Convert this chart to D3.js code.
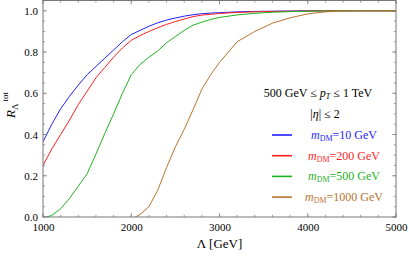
<!DOCTYPE html>
<html>
<head>
<meta charset="utf-8">
<script src="https://cdn.jsdelivr.net/npm/d3@7"></script>
<style>
  body { margin: 0; background: #fff; }
  svg text { font-family: "Liberation Serif", "DejaVu Serif", serif; }
</style>
</head>
<body>
<div id="chart"></div>
<script>
// Lambda grid (GeV)
const lambda = [1000, 1100, 1200, 1300, 1400, 1500, 1600, 1700, 1800, 1900,
	2000, 2100, 2200, 2300, 2400, 2500, 2600, 2700, 2800, 2900,
	3000, 3200, 3400, 3600, 3800, 4000, 4200, 4400, 4600, 4800, 5000];

// R_Lambda^tot for each dark matter mass (values below 0 are clipped by the frame)
const m10 = [0.365, 0.45, 0.525, 0.585, 0.64, 0.69, 0.73, 0.77, 0.81, 0.85,
	0.885, 0.905, 0.925, 0.942, 0.955, 0.965, 0.974, 0.981, 0.986, 0.989,
	0.991, 0.995, 0.997, 0.998, 0.999, 1, 1, 1, 1, 1, 1];
const m200 = [0.25, 0.33, 0.40, 0.47, 0.545, 0.61, 0.675, 0.725, 0.775, 0.82,
	0.857, 0.88, 0.90, 0.918, 0.934, 0.948, 0.96, 0.972, 0.979, 0.983,
	0.987, 0.992, 0.995, 0.997, 0.998, 0.999, 1, 1, 1, 1, 1];
const m500 = [-0.006, 0.008, 0.04, 0.09, 0.15, 0.21, 0.305, 0.405, 0.50, 0.60,
	0.69, 0.74, 0.775, 0.805, 0.845, 0.875, 0.905, 0.93, 0.945, 0.958,
	0.968, 0.98, 0.988, 0.993, 0.996, 0.998, 0.999, 1, 1, 1, 1];
const m1000 = [null, null, null, null, null, null, null, null, null, null,
	-0.01, 0.012, 0.05, 0.13, 0.24, 0.34, 0.425, 0.52, 0.62, 0.69,
	0.75, 0.85, 0.90, 0.94, 0.966, 0.985, 0.995, 0.999, 1, 1, 1];

const seriesNames = ["10", "200", "500", "1000"];
const seriesColors = ["#1f1fff", "#ff1f1f", "#1fb21f", "#b8732e"];
const seriesValues = [m10, m200, m500, m1000];

const xTicks = [1000, 2000, 3000, 4000, 5000];
const yTicks = [0, 0.2, 0.4, 0.6, 0.8, 1.0];

const W = 409, H = 257;
const margin = {top: 0.5, right: 13, bottom: 40, left: 43};
const width = W - margin.left - margin.right;
const height = H - margin.top - margin.bottom;

const svg = d3.select("#chart").append("svg")
	.attr("width", W)
	.attr("height", H);

const g = svg.append("g")
	.attr("transform", "translate(" + margin.left + "," + margin.top + ")");

const x = d3.scaleLinear().domain([1000, 5000]).range([0, width]);
const y = d3.scaleLinear().domain([0, 1.05]).range([height, 0]);

// frame ticks (inward), major + minor on all four sides
const frameColor = "#777";
const xMinor = d3.range(1000, 5001, 200);
const yMinor = d3.range(0, 1.051, 0.05);

function tickSet(vals, isMajor, side) {
	const len = isMajor ? 4 : 2.2;
	vals.forEach(v => {
		let x1, y1, x2, y2;
		if (side === "bottom") { x1 = x2 = x(v); y1 = height; y2 = height - len; }
		if (side === "top") { x1 = x2 = x(v); y1 = 0; y2 = len; }
		if (side === "left") { y1 = y2 = y(v); x1 = 0; x2 = len; }
		if (side === "right") { y1 = y2 = y(v); x1 = width; x2 = width - len; }
		g.append("line")
			.attr("x1", x1).attr("y1", y1).attr("x2", x2).attr("y2", y2)
			.attr("stroke", frameColor).attr("stroke-width", 0.7);
	});
}
["bottom", "top"].forEach(s => { tickSet(xMinor, false, s); tickSet(xTicks, true, s); });
["left", "right"].forEach(s => { tickSet(yMinor, false, s); tickSet(yTicks, true, s); });

// axis labels via d3 axes (ticks hidden, frame drawn separately)
const xAxis = d3.axisBottom(x).tickValues(xTicks).tickSize(0).tickPadding(6).tickFormat(d3.format("d"));
const yAxis = d3.axisLeft(y).tickValues(yTicks).tickSize(0).tickPadding(5).tickFormat(d3.format(".1f"));

g.append("g").attr("class", "x-axis")
	.attr("transform", "translate(0," + height + ")")
	.attr("font-family", "Liberation Serif")
	.call(xAxis)
	.call(a => a.select(".domain").remove())
	.selectAll("text").attr("font-size", 11).attr("fill", "#000");

g.append("g").attr("class", "y-axis")
	.attr("font-family", "Liberation Serif")
	.call(yAxis)
	.call(a => a.select(".domain").remove())
	.selectAll("text").attr("font-size", 11).attr("fill", "#000");

// curves
g.append("clipPath").attr("id", "clip")
	.append("rect").attr("width", width).attr("height", height);

const line = d3.line()
	.defined(d => d[1] !== null)
	.x(d => x(d[0]))
	.y(d => y(d[1]));

seriesValues.forEach((vals, i) => {
	g.append("path")
		.datum(lambda.map((l, j) => [l, vals[j]]))
		.attr("clip-path", "url(#clip)")
		.attr("fill", "none")
		.attr("stroke", seriesColors[i])
		.attr("stroke-width", 1)
		.attr("d", line);
});

// frame
g.append("rect")
	.attr("width", width).attr("height", height)
	.attr("fill", "none").attr("stroke", frameColor).attr("stroke-width", 1);

// axis titles
svg.append("text")
	.attr("x", margin.left + width / 2)
	.attr("y", 248)
	.attr("text-anchor", "middle")
	.attr("font-size", 13)
	.text("Λ [GeV]");

const yl = svg.append("text")
	.attr("transform", "translate(15,105) rotate(-90)")
	.attr("text-anchor", "middle")
	.attr("font-size", 13);
yl.append("tspan").attr("font-style", "italic").text("R");
yl.append("tspan").attr("font-size", 9).attr("dy", 3).text("Λ");
yl.append("tspan").attr("font-size", 9).attr("dx", 2).attr("dy", -10).text("tot");

// annotation
const t1 = svg.append("text").attr("x", 318).attr("y", 97)
	.attr("text-anchor", "middle").attr("font-size", 12);
t1.append("tspan").text("500 GeV ≤ ");
t1.append("tspan").attr("font-style", "italic").text("p");
t1.append("tspan").attr("font-style", "italic").attr("font-size", 8).attr("dy", 2).text("T");
t1.append("tspan").attr("dy", -2).text(" ≤ 1 TeV");

const t2 = svg.append("text").attr("x", 325).attr("y", 118)
	.attr("text-anchor", "middle").attr("font-size", 12);
t2.append("tspan").text("|");
t2.append("tspan").attr("font-style", "italic").text("η");
t2.append("tspan").text("| ≤ 2");

// legend
const legend = svg.append("g").attr("class", "legend");
seriesNames.forEach((name, i) => {
	const ly = 135 + i * 20.7;
	legend.append("line")
		.attr("x1", 272).attr("x2", 292)
		.attr("y1", ly).attr("y2", ly)
		.attr("stroke", seriesColors[i]).attr("stroke-width", 1.6);
	const lt = legend.append("text")
		.attr("x", 344).attr("y", ly + 4)
		.attr("text-anchor", "middle")
		.attr("font-size", 12)
		.attr("fill", seriesColors[i]);
	lt.append("tspan").attr("font-style", "italic").text("m");
	lt.append("tspan").attr("font-size", 8).attr("dy", 2).text("DM");
	lt.append("tspan").attr("dy", -2).text("=" + name + " GeV");
});
</script>
</body>
</html>
